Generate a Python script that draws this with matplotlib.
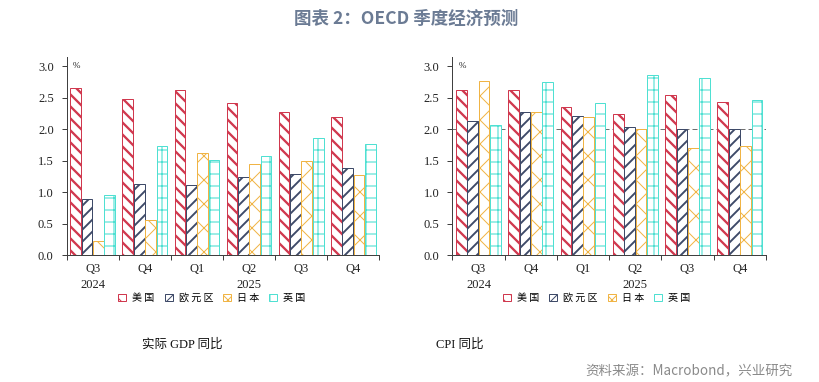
import matplotlib
matplotlib.use("Agg")
import matplotlib.pyplot as plt
import numpy as np
from matplotlib.transforms import blended_transform_factory

# ---- data ----
quarters = ["Q3", "Q4", "Q1", "Q2", "Q3", "Q4"]
years = ["2024", "2025"]
year_span = [(0, 1), (1, 6)]  # category index ranges per year
series_names = ["美 国", "欧 元 区", "日 本", "英 国"]

gdp_us = [2.65, 2.49, 2.62, 2.42, 2.27, 2.20]
gdp_ea = [0.90, 1.14, 1.11, 1.25, 1.29, 1.38]
gdp_jp = [0.23, 0.56, 1.62, 1.45, 1.49, 1.27]
gdp_uk = [0.95, 1.74, 1.51, 1.58, 1.86, 1.76]

cpi_us = [2.63, 2.63, 2.35, 2.25, 2.54, 2.44]
cpi_ea = [2.14, 2.27, 2.21, 2.03, 2.00, 2.00]
cpi_jp = [2.77, 2.28, 2.20, 2.00, 1.71, 1.74]
cpi_uk = [2.07, 2.76, 2.42, 2.87, 2.82, 2.47]

cpi_target = 2.0

colors = ["#d0384e", "#3e4a68", "#f0b445", "#4fe0d2"]
hatches = ["\\\\", "//", "x", "+"]
hatch_lw = [2.3, 1.9, 1.0, 1.1]

DPI = 72
fig = plt.figure(figsize=(819 / DPI, 382 / DPI), dpi=DPI)
fig.patch.set_facecolor("white")

serif = ["Liberation Serif", "Noto Sans CJK SC"]
cjk = ["Noto Sans CJK SC", "DejaVu Sans"]

ax_h = 0.5191
ax_bottom = 0.3317
axes_pos = [
    [66.7 / 819, ax_bottom, 312.6 / 819, ax_h],
    [452.3 / 819, ax_bottom, 313.7 / 819, ax_h],
]

datasets = [
    [gdp_us, gdp_ea, gdp_jp, gdp_uk],
    [cpi_us, cpi_ea, cpi_jp, cpi_uk],
]
subtitles = ["实际 GDP 同比", "CPI 同比"]
subtitle_x = [182 / 819, 460 / 819]
legend_x = [0.465, 0.46]

spine_color = "#404040"
width = 0.205
step = 0.218

for k in range(2):
    ax = fig.add_axes(axes_pos[k])
    x = np.arange(len(quarters)) + 0.5
    handles = []
    for i, vals in enumerate(datasets[k]):
        with plt.rc_context({"hatch.linewidth": hatch_lw[i]}):
            bars = ax.bar(x + (i - 1.5) * step, vals, width=width,
                          facecolor="white", edgecolor=colors[i],
                          hatch=hatches[i], linewidth=1.0, zorder=2,
                          label=series_names[i])
        handles.append(bars)
    if k == 1:
        ax.axhline(cpi_target, color="#707070", linestyle=(0, (5, 3)),
                   linewidth=1.0, zorder=1)
    ax.set_xlim(0, len(quarters))
    ax.set_ylim(0, 3.15)
    ax.set_yticks(np.arange(0, 3.01, 0.5))
    ax.set_yticklabels([f"{v:.1f}" for v in np.arange(0, 3.01, 0.5)],
                       family=serif, fontsize=12.5, color="#222222")
    ax.set_xticks(np.arange(0, len(quarters) + 1))
    ax.set_xticklabels([])
    ax.set_xticks(x, minor=True)
    ax.set_xticklabels(quarters, minor=True, family=serif, fontsize=12.5,
                       color="#222222")
    ax.tick_params(axis="x", which="major", direction="out", length=5,
                   width=1, color=spine_color)
    ax.tick_params(axis="x", which="minor", length=0, pad=8)
    ax.tick_params(axis="y", direction="out", length=5, width=1,
                   color=spine_color, pad=8)
    for s in ["top", "right"]:
        ax.spines[s].set_visible(False)
    for s in ["left", "bottom"]:
        ax.spines[s].set_color(spine_color)
        ax.spines[s].set_linewidth(1.0)
    ax.text(0.02, 3.0, "%", family=serif, fontsize=9, color="#222222",
            ha="left", va="center", transform=blended_transform_factory(ax.transAxes, ax.transData))
    tr = blended_transform_factory(ax.transData, ax.transAxes)
    for yname, (a, b) in zip(years, year_span):
        ax.text((a + b) / 2, -0.152, yname, family=serif, fontsize=12.5,
                color="#222222", ha="center", va="center", transform=tr)
    leg = ax.legend(handles=handles, loc="center",
                    bbox_to_anchor=(legend_x[k], -0.215), ncol=4,
                    frameon=False, prop={"family": cjk, "size": 10},
                    handlelength=0.8, handleheight=0.8, handletextpad=0.6,
                    columnspacing=1.0, borderpad=0, borderaxespad=0)
    fig.text(subtitle_x[k], 1 - 345 / 382, subtitles[k], family=serif,
             fontsize=12.5, color="#111111", ha="center", va="center")

fig.text(406 / 819, 1 - 18.7 / 382, "图表 2：OECD 季度经济预测", family=cjk,
         fontsize=17.5, fontweight="bold", color="#6b7b94", ha="center",
         va="center")
fig.text(585 / 819, 1 - 371 / 382, "资料来源：Macrobond，兴业研究", family=cjk,
         fontsize=13.5, color="#8a8a8a", ha="left", va="center")

fig.savefig("out.png", dpi=DPI, facecolor="white")
